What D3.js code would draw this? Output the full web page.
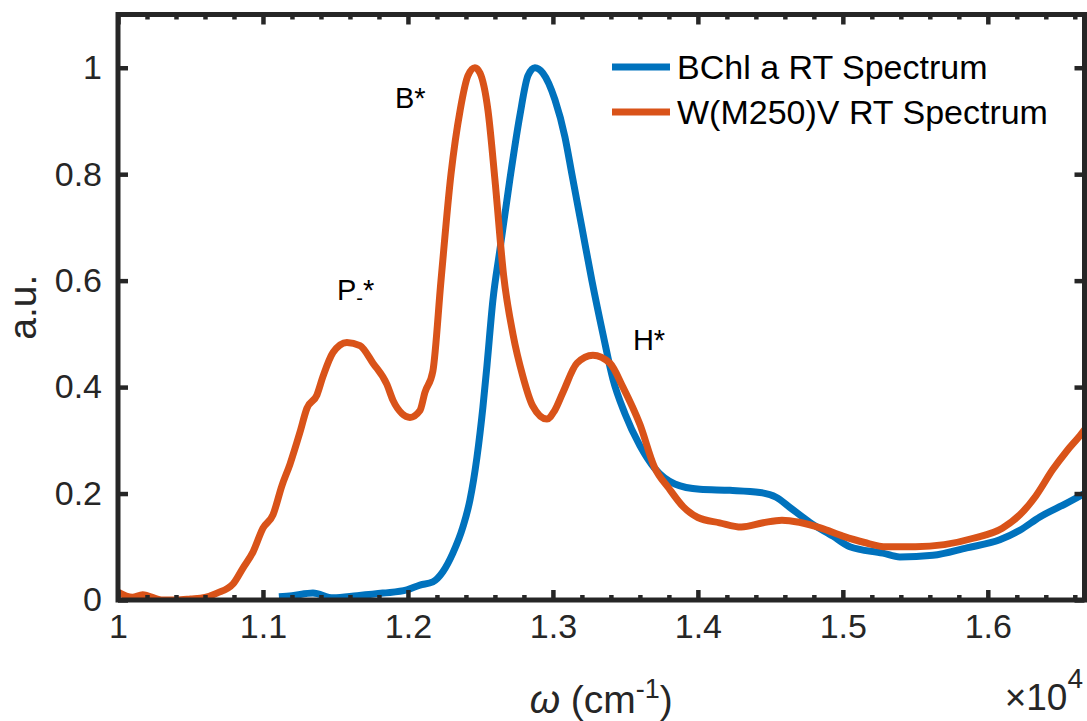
<!DOCTYPE html>
<html>
<head>
<meta charset="utf-8">
<script src="https://cdn.jsdelivr.net/npm/d3@7"></script>
<style>
  body { margin: 0; background: #fff; }
  text { font-family: "Liberation Sans", Arial, Helvetica, sans-serif; }
</style>
</head>
<body>
<div id="chart"></div>
<script>
"use strict";

// BChl a RT spectrum (wavenumber in cm^-1, normalised absorbance)
const bchlWn  = [11110, 11200, 11345, 11483, 11650, 11828, 11993, 12083, 12172, 12241, 12310, 12379, 12428, 12476, 12517, 12545, 12586, 12634, 12703, 12772, 12828, 12876, 12931, 13014, 13083, 13131, 13200, 13269, 13345, 13414, 13497, 13600, 13703, 13841, 14014, 14221, 14428, 14540, 14634, 14772, 14931, 15048, 15276, 15393, 15621, 15855, 16083, 16221, 16359, 16545, 16667];
const bchlAbs = [0.006, 0.008, 0.013, 0.004, 0.008, 0.013, 0.019, 0.028, 0.034, 0.053, 0.088, 0.137, 0.188, 0.268, 0.362, 0.44, 0.563, 0.657, 0.79, 0.91, 0.985, 1.0, 0.99, 0.94, 0.87, 0.80, 0.70, 0.60, 0.50, 0.415, 0.35, 0.29, 0.247, 0.218, 0.208, 0.206, 0.202, 0.193, 0.174, 0.146, 0.12, 0.1, 0.088, 0.081, 0.084, 0.098, 0.113, 0.131, 0.156, 0.182, 0.2];

// W(M250)V RT spectrum
const mutWn  = [10000, 10100, 10170, 10300, 10400, 10500, 10600, 10683, 10793, 10862, 10931, 11000, 11069, 11131, 11186, 11255, 11303, 11372, 11414, 11483, 11579, 11669, 11759, 11855, 11897, 11960, 12014, 12083, 12117, 12172, 12228, 12297, 12360, 12414, 12462, 12497, 12552, 12600, 12660, 12724, 12793, 12860, 12959, 13010, 13069, 13166, 13276, 13393, 13483, 13600, 13700, 13800, 13900, 14000, 14150, 14300, 14450, 14580, 14700, 14850, 15000, 15150, 15300, 15500, 15700, 15900, 16100, 16221, 16330, 16448, 16545, 16648, 16667];
const mutAbs = [0.015, 0.005, 0.01, 0.0, 0.0, 0.002, 0.005, 0.013, 0.03, 0.06, 0.09, 0.135, 0.16, 0.215, 0.255, 0.315, 0.36, 0.385, 0.42, 0.465, 0.484, 0.478, 0.445, 0.405, 0.375, 0.35, 0.343, 0.356, 0.39, 0.43, 0.6, 0.8, 0.92, 0.985, 1.0, 0.99, 0.92, 0.79, 0.61, 0.50, 0.42, 0.365, 0.34, 0.355, 0.39, 0.445, 0.46, 0.445, 0.40, 0.33, 0.25, 0.21, 0.175, 0.155, 0.145, 0.137, 0.145, 0.15, 0.146, 0.135, 0.12, 0.108, 0.1, 0.1, 0.104, 0.116, 0.135, 0.16, 0.195, 0.245, 0.28, 0.313, 0.32];

const seriesNames = ["BChl a RT Spectrum", "W(M250)V RT Spectrum"];
const seriesColors = ["#0072BD", "#D95319"];
const xMajor = [10000, 11000, 12000, 13000, 14000, 15000, 16000];
const xMinor = d3.range(10000, 16667, 200).filter(d => d % 1000 !== 0);
const yMajor = [0, 0.2, 0.4, 0.6, 0.8, 1];

const W = 1087, H = 721;
const margin = {top: 14.5, right: 2.5, bottom: 121, left: 118};
const width = W - margin.left - margin.right,
      height = H - margin.top - margin.bottom;
const axisColor = "#262626";

const svg = d3.select("#chart").append("svg")
    .attr("width", W)
    .attr("height", H);
const g = svg.append("g")
    .attr("transform", "translate(" + margin.left + "," + margin.top + ")");

const x = d3.scaleLinear().domain([10000, 16667]).range([0, width]);
const y = d3.scaleLinear().domain([0, 1.1]).range([height, 0]);

svg.append("defs").append("clipPath").attr("id", "clip")
  .append("rect").attr("width", width).attr("height", height);

// curves
const line = d3.line().x(d => x(d[0])).y(d => y(d[1])).curve(d3.curveMonotoneX);
const series = [d3.zip(bchlWn, bchlAbs), d3.zip(mutWn, mutAbs)];
g.append("g").attr("clip-path", "url(#clip)")
  .selectAll("path")
  .data(series)
  .enter()
  .append("path")
  .attr("d", line)
  .attr("fill", "none")
  .attr("stroke", (d, i) => seriesColors[i])
  .attr("stroke-width", 7)
  .attr("stroke-linejoin", "round");

function styleAxis(sel) {
    sel.select(".domain").remove();
    sel.selectAll("line").attr("stroke", axisColor).attr("stroke-width", 4.5);
    sel.selectAll("text").attr("fill", axisColor).style("font-size", "34px");
}

// bottom
g.append("g").attr("transform", "translate(0," + height + ")")
  .call(d3.axisBottom(x).tickValues(xMajor).tickSize(-10).tickPadding(14).tickFormat(d => d / 10000))
  .call(styleAxis);
g.append("g").attr("transform", "translate(0," + height + ")")
  .call(d3.axisBottom(x).tickValues(xMinor).tickSize(-5).tickFormat(""))
  .call(styleAxis);
// top
g.append("g")
  .call(d3.axisTop(x).tickValues(xMajor).tickSize(-10).tickFormat(""))
  .call(styleAxis);
g.append("g")
  .call(d3.axisTop(x).tickValues(xMinor).tickSize(-5).tickFormat(""))
  .call(styleAxis);
// left
g.append("g")
  .call(d3.axisLeft(y).tickValues(yMajor).tickSize(-10).tickPadding(16).tickFormat(d3.format("~g")))
  .call(styleAxis);
// right
g.append("g").attr("transform", "translate(" + width + ",0)")
  .call(d3.axisRight(y).tickValues(yMajor).tickSize(-10).tickFormat(""))
  .call(styleAxis);

// box
g.append("rect")
  .attr("width", width).attr("height", height)
  .attr("fill", "none")
  .attr("stroke", axisColor)
  .attr("stroke-width", 5);

// axis labels
svg.append("text")
  .attr("x", margin.left + width / 2)
  .attr("y", 713)
  .attr("text-anchor", "middle")
  .attr("fill", axisColor)
  .style("font-size", "39px")
  .html('<tspan font-style="italic">ω</tspan> (cm<tspan dy="-15" font-size="27px">-1</tspan><tspan dy="15">)</tspan>');

svg.append("text")
  .attr("transform", "translate(36," + (margin.top + height / 2) + ") rotate(-90)")
  .attr("text-anchor", "middle")
  .attr("fill", axisColor)
  .style("font-size", "39px")
  .text("a.u.");

svg.append("text")
  .attr("x", 1083)
  .attr("y", 710)
  .attr("text-anchor", "end")
  .attr("fill", axisColor)
  .style("font-size", "37px")
  .html('×10<tspan dy="-22" font-size="28px">4</tspan>');

// peak labels
const peaks = [
    {t: "B*", wn: 11910, v: 0.925},
    {t: "P", wn: 11510, v: 0.563, sub: "-"},
    {t: "H*", wn: 13552, v: 0.469}
];
peaks.forEach(p => {
    const tx = g.append("text")
      .attr("x", x(p.wn))
      .attr("y", y(p.v))
      .attr("fill", "#000")
      .style("font-size", "29px");
    tx.append("tspan").text(p.t);
    if (p.sub) {
        tx.append("tspan").attr("dy", 5).attr("font-size", "20px").text(p.sub);
        tx.append("tspan").attr("dy", -5).text("*");
    }
});

// legend
const leg = svg.append("g");
seriesNames.forEach((name, i) => {
    const ly = 67 + i * 45;
    leg.append("line")
      .attr("x1", 612).attr("x2", 670)
      .attr("y1", ly).attr("y2", ly)
      .attr("stroke", seriesColors[i])
      .attr("stroke-width", 7);
    leg.append("text")
      .attr("x", 677)
      .attr("y", ly + 12)
      .attr("fill", "#000")
      .style("font-size", "34px")
      .text(name);
});
</script>
</body>
</html>
